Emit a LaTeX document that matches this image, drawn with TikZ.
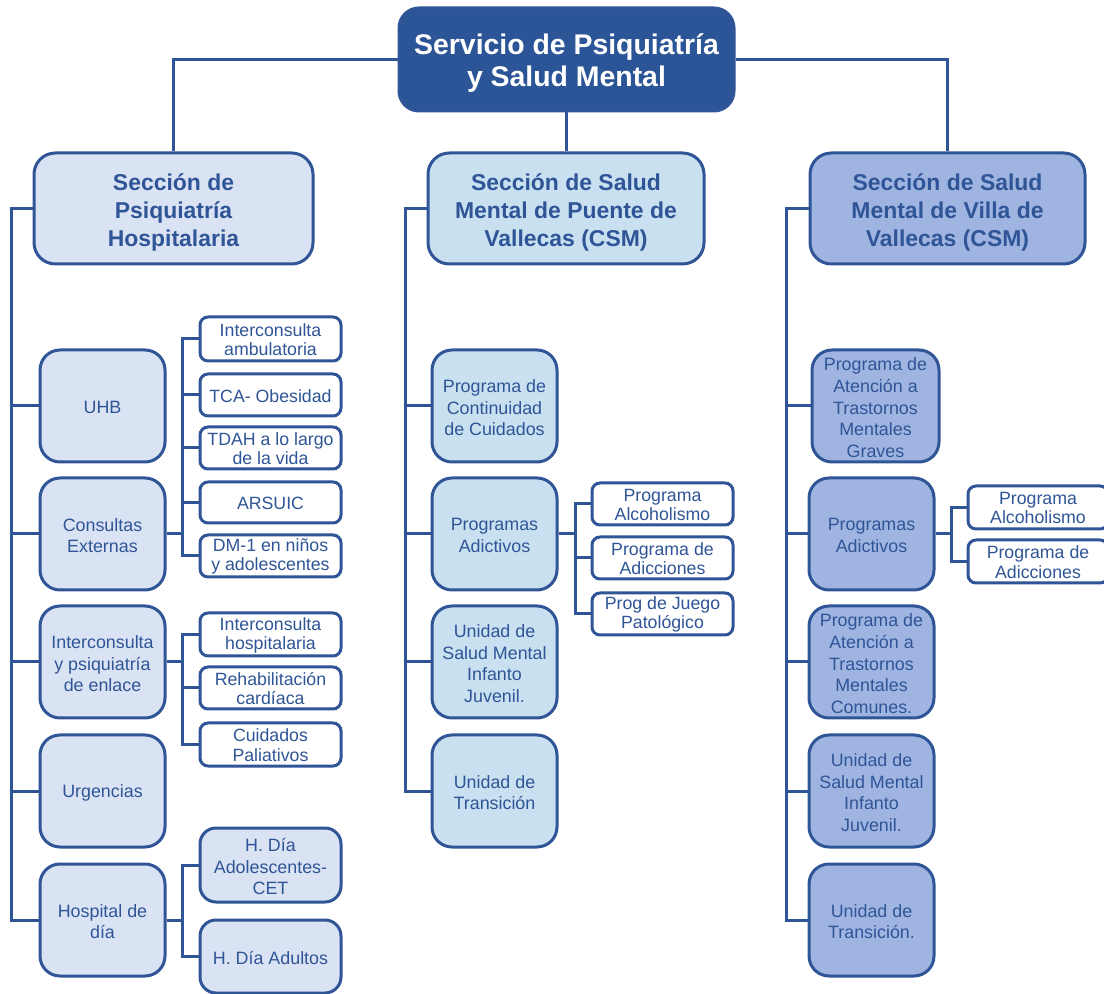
\documentclass[tikz,border=0pt]{standalone}
\usepackage{fontspec}
\setmainfont{Liberation Sans}
\definecolor{lc}{HTML}{2F5597}
\definecolor{topc}{HTML}{2C5597}
\definecolor{lfill}{HTML}{DAE3F3}
\definecolor{cfill}{HTML}{C8E0F0}
\definecolor{rfill}{HTML}{9FB4E1}
\newcommand\ftop{\fontsize{21.3}{24}\selectfont\bfseries}
\newcommand\fsec{\fontsize{17.2}{21}\selectfont\bfseries}
\newcommand\fchild{\fontsize{13.4}{16.2}\selectfont}
\newcommand\fsub{\fontsize{13.3}{14.3}\selectfont}
% #1 name, #2-#5 box corners (px), #6 kind, #7 fill, #8 text
\newcommand\mybox[8]{%
  \node[#6box, fill=#7, minimum width={(#4-#2)*0.75pt}, minimum height={(#5-#3)*0.75pt}] (#1) at ({(#2+#4)/2},{(#3+#5)/2}) {};
  \node[#6txt] (#1-t) at (#1.center) {#8};}
\tikzset{
  conn/.style={draw=lc, line width=2.25pt},
  base/.style={draw=lc, line width=2.25pt, inner sep=0pt},
  txtbase/.style={inner sep=0pt, align=center, text=lc},
  topbox/.style={base, rounded corners=15pt},
  toptxt/.style={txtbase, text=white, font=\ftop, yshift=-2.6pt},
  secbox/.style={base, rounded corners=16pt},
  sectxt/.style={txtbase, font=\fsec, yshift=-2.8pt},
  childbox/.style={base, rounded corners=15pt},
  childtxt/.style={txtbase, font=\fchild, yshift=-1.3pt},
  subbox/.style={base, rounded corners=6pt},
  subtxt/.style={txtbase, font=\fsub, yshift=-0.5pt},
  bigbox/.style={base, rounded corners=12pt},
  bigtxt/.style={txtbase, font=\fchild, yshift=-1.2pt},
}
\begin{document}
\begin{tikzpicture}[x=0.75pt,y=-0.75pt]
\useasboundingbox (0,0) rectangle (1104,994);
\clip (0,0) rectangle (1104,994);
% top
\mybox{top}{399}{8}{734}{111}{top}{topc}{Servicio de Psiquiatría\\y Salud Mental}
% sections
\mybox{s1}{34}{153}{313}{264}{sec}{lfill}{Sección de\\Psiquiatría\\Hospitalaria}
\mybox{s2}{428}{153}{704}{264}{sec}{cfill}{Sección de Salud\\Mental de Puente de\\Vallecas (CSM)}
\mybox{s3}{810}{153}{1085}{264}{sec}{rfill}{Sección de Salud\\Mental de Villa de\\Vallecas (CSM)}
% left children
\mybox{uhb}{40}{350}{165}{462}{child}{lfill}{UHB}
\mybox{ce}{40}{478}{165}{590}{child}{lfill}{Consultas\\Externas}
\mybox{ic}{40}{606}{165}{718}{child}{lfill}{Interconsulta\\y psiquiatría\\de enlace}
\mybox{urg}{40}{735}{165}{847}{child}{lfill}{Urgencias}
\mybox{hd}{40}{864}{165}{976}{child}{lfill}{Hospital de\\día}
% left subs
\mybox{ia}{200}{317}{341}{361}{sub}{white}{Interconsulta\\ambulatoria}
\mybox{tca}{200}{374}{341}{416}{sub}{white}{TCA- Obesidad}
\mybox{tdah}{200}{427}{341}{469}{sub}{white}{TDAH a lo largo\\de la vida}
\mybox{ars}{200}{482}{341}{523}{sub}{white}{ARSUIC}
\mybox{dm}{200}{535}{341}{577}{sub}{white}{DM-1 en niños\\y adolescentes}
\mybox{ih}{200}{613}{341}{656}{sub}{white}{Interconsulta\\hospitalaria}
\mybox{rh}{200}{667}{341}{709}{sub}{white}{Rehabilitación\\cardíaca}
\mybox{cp}{200}{723}{341}{766}{sub}{white}{Cuidados\\Paliativos}
\mybox{hda}{200}{828}{341}{902}{big}{lfill}{H. Día\\Adolescentes-\\CET}
\mybox{hdb}{200}{920}{341}{993}{big}{lfill}{H. Día Adultos}
% center children
\mybox{pcc}{432}{350}{557}{462}{child}{cfill}{Programa de\\Continuidad\\de Cuidados}
\mybox{cpa}{432}{478}{557}{590}{child}{cfill}{Programas\\Adictivos}
\mybox{cus}{432}{606}{557}{718}{child}{cfill}{Unidad de\\Salud Mental\\Infanto\\Juvenil.}
\mybox{cut}{432}{735}{557}{847}{child}{cfill}{Unidad de\\Transición}
\mybox{pa1}{592}{483}{733}{525}{sub}{white}{Programa\\Alcoholismo}
\mybox{pa2}{592}{537}{733}{579}{sub}{white}{Programa de\\Adicciones}
\mybox{pj}{592}{593}{733}{635}{sub}{white}{Prog de Juego\\Patológico}
% right children
\mybox{tmg}{812}{350}{939}{462}{child}{rfill}{Programa de\\Atención a\\Trastornos\\Mentales\\Graves}
\mybox{rpa}{809}{478}{934}{590}{child}{rfill}{Programas\\Adictivos}
\mybox{tmc}{809}{606}{934}{718}{child}{rfill}{Programa de\\Atención a\\Trastornos\\Mentales\\Comunes.}
\mybox{rus}{809}{735}{934}{847}{child}{rfill}{Unidad de\\Salud Mental\\Infanto\\Juvenil.}
\mybox{rut}{809}{864}{934}{976}{child}{rfill}{Unidad de\\Transición.}
\mybox{ra1}{968}{486}{1108}{529}{sub}{white}{Programa\\Alcoholismo}
\mybox{ra2}{968}{540}{1108}{583}{sub}{white}{Programa de\\Adicciones}
% coordinates of the vertical rails
\coordinate (L) at (11,0);
\coordinate (B1) at (182,0);
\coordinate (C) at (405,0);
\coordinate (B2) at (575,0);
\coordinate (R) at (786,0);
\coordinate (B3) at (951,0);
% top connectors
\draw[conn] (top.west) -| (s1.north);
\draw[conn] (top.east) -| (s3.north);
\draw[conn] (top.south) -- (top.south |- s2.north);
% left
\draw[conn] (s1.west) -- (s1.west -| L) |- (hd.west);
\foreach \n in {uhb,ce,ic,urg} \draw[conn] (\n.west -| L) -- (\n.west);
\draw[conn] (ia.west) -| (B1 |- dm.west) -- (dm.west);
\foreach \n in {tca,tdah,ars} \draw[conn] (\n.west -| B1) -- (\n.west);
\draw[conn] (ce.east) -- (ce.east -| B1);
\draw[conn] (ih.west) -| (B1 |- cp.west) -- (cp.west);
\draw[conn] (rh.west -| B1) -- (rh.west);
\draw[conn] (ic.east) -- (ic.east -| B1);
\draw[conn] (hda.west) -| (B1 |- hdb.west) -- (hdb.west);
\draw[conn] (hd.east) -- (hd.east -| B1);
% center
\draw[conn] (s2.west) -- (s2.west -| C) |- (cut.west);
\foreach \n in {pcc,cpa,cus} \draw[conn] (\n.west -| C) -- (\n.west);
\draw[conn] (pa1.west) -| (B2 |- pj.west) -- (pj.west);
\draw[conn] (pa2.west -| B2) -- (pa2.west);
\draw[conn] (cpa.east) -- (cpa.east -| B2);
% right
\draw[conn] (s3.west) -- (s3.west -| R) |- (rut.west);
\foreach \n in {tmg,rpa,tmc,rus} \draw[conn] (\n.west -| R) -- (\n.west);
\draw[conn] (ra1.west) -| (B3 |- ra2.west) -- (ra2.west);
\draw[conn] (rpa.east) -- (rpa.east -| B3);
\end{tikzpicture}
\end{document}
